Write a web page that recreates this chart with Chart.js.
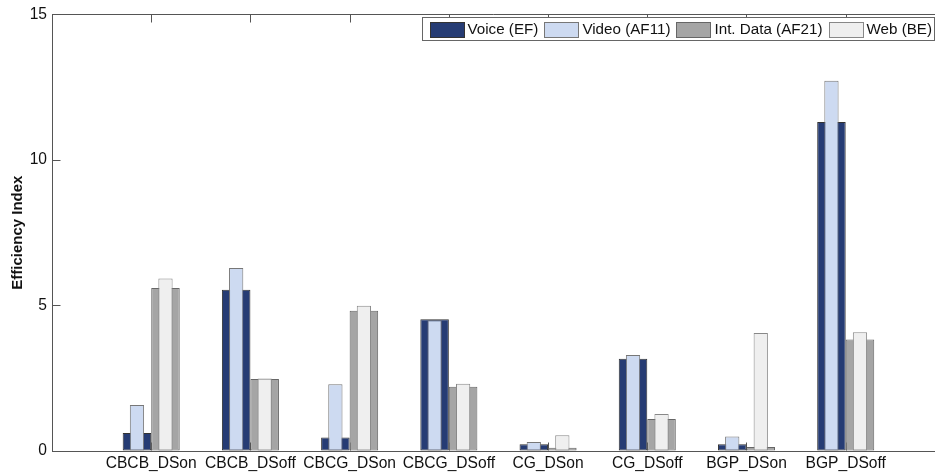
<!DOCTYPE html>
<html>
<head>
<meta charset="utf-8">
<title>Efficiency Index</title>
<script src="https://cdn.jsdelivr.net/npm/chart.js@4.4.0/dist/chart.umd.min.js"></script>
<style>
  html, body { margin: 0; padding: 0; background: #fff; overflow: hidden; }
  #wrap { position: relative; width: 935px; height: 473px; }
</style>
</head>
<body>
<div id="wrap"><canvas id="efficiencyChart"></canvas></div>
<script>
// Scénarios et valeurs par classe de trafic
const categories = ['CBCB_DSon', 'CBCB_DSoff', 'CBCG_DSon', 'CBCG_DSoff', 'CG_DSon', 'CG_DSoff', 'BGP_DSon', 'BGP_DSoff'];
const voiceEF   = [0.62, 5.54, 0.46, 4.53, 0.23, 3.17, 0.23, 11.30];
const videoAF11 = [1.58, 6.29, 2.29, 4.49, 0.31, 3.30, 0.50, 12.72];
const dataAF21  = [5.60, 2.47, 4.82, 2.21, 0.11, 1.10, 0.14, 3.83];
const webBE     = [5.93, 2.49, 4.99, 2.31, 0.54, 1.27, 4.05, 4.08];
const yTicks = [0, 5, 10, 15];

const FONT = "'Liberation Sans', Arial, Helvetica, sans-serif";
const FONT_SIZE = 15.6;
const AXIS_COLOR = '#555';

// Les catégories sont placées en 1..8 sur un axe linéaire
function toPoints(values) {
  return values.map((v, i) => ({ x: i + 1, y: v }));
}

// Cadre façon MATLAB : ligne du haut + petits traits vers l'intérieur
const axisFrame = {
  id: 'axisFrame',
  beforeDatasetsDraw(chart) {
    const { ctx, chartArea: a, scales } = chart;
    const top = Math.round(a.top) + 0.5;
    const left = Math.round(a.left) + 0.5;
    const bottom = Math.round(a.bottom) - 0.5;
    ctx.save();
    ctx.strokeStyle = AXIS_COLOR;
    ctx.lineWidth = 1;
    ctx.beginPath();
    ctx.moveTo(left, top);
    ctx.lineTo(a.right, top);
    categories.forEach((c, i) => {
      const x = Math.round(scales.x.getPixelForValue(i + 1)) + 0.5;
      ctx.moveTo(x, top);
      ctx.lineTo(x, top + 8);
      ctx.moveTo(x, bottom);
      ctx.lineTo(x, bottom - 8);
    });
    yTicks.forEach(t => {
      const y = Math.round(scales.y.getPixelForValue(t)) + 0.5;
      ctx.moveTo(left, y);
      ctx.lineTo(left + 8, y);
    });
    ctx.stroke();
    ctx.restore();
  }
};

// Légende encadrée dans le coin en haut à droite
const boxLegend = {
  id: 'boxLegend',
  afterDraw(chart) {
    const { ctx } = chart;
    const items = chart.data.datasets;
    const sw = 34, sh = 15, padL = 7, gapText = 4, gapItem = 6, padR = 3;
    ctx.save();
    ctx.font = '15.2px ' + FONT;
    const widths = items.map(d => ctx.measureText(d.label).width);
    let total = padL + padR;
    widths.forEach((w, i) => { total += sw + gapText + w + (i < widths.length - 1 ? gapItem : 0); });
    const right = 934.5, top = 17.5, h = 23;
    const left = Math.round(right - total) + 0.5;
    ctx.fillStyle = '#fff';
    ctx.fillRect(left, top, right - left, h);
    ctx.strokeStyle = '#666';
    ctx.lineWidth = 1;
    ctx.strokeRect(left, top, right - left, h);

    let x = left + padL;
    const cy = top + h / 2;
    items.forEach((d, i) => {
      ctx.fillStyle = d.backgroundColor;
      ctx.fillRect(Math.round(x) + 0.5, Math.round(cy - sh / 2) + 0.5, sw, sh);
      ctx.strokeStyle = d.borderColor;
      ctx.strokeRect(Math.round(x) + 0.5, Math.round(cy - sh / 2) + 0.5, sw, sh);
      x += sw + gapText;
      ctx.fillStyle = '#111';
      ctx.textBaseline = 'middle';
      ctx.textAlign = 'left';
      ctx.fillText(d.label, x, cy + 1);
      x += widths[i] + gapItem;
    });
    ctx.restore();
  }
};

const data = {
  datasets: [
    {
      label: 'Voice (EF)',
      data: toPoints(voiceEF),
      stack: 'left',
      order: 2,
      barPercentage: 1,
      backgroundColor: '#263c74',
      borderColor: '#333'
    },
    {
      label: 'Video (AF11)',
      data: toPoints(videoAF11),
      stack: 'left',
      order: 1,
      barPercentage: 0.5,
      backgroundColor: '#cddaf1',
      borderColor: '#777'
    },
    {
      label: 'Int. Data (AF21)',
      data: toPoints(dataAF21),
      stack: 'right',
      order: 2,
      barPercentage: 1,
      backgroundColor: '#a5a5a5',
      borderColor: '#666'
    },
    {
      label: 'Web (BE)',
      data: toPoints(webBE),
      stack: 'right',
      order: 1,
      barPercentage: 0.5,
      backgroundColor: '#efefef',
      borderColor: '#888'
    }
  ]
};

const config = {
  type: 'bar',
  data: data,
  options: {
    responsive: true,
    maintainAspectRatio: false,
    animation: false,
    layout: { padding: { left: 0, top: 12, right: 0, bottom: 0 } },
    datasets: {
      bar: {
        categoryPercentage: 0.575,
        borderWidth: 1,
        borderSkipped: false
      }
    },
    scales: {
      x: {
        type: 'linear',
        min: 0,
        max: 8.9,
        offset: false,
        afterBuildTicks: (scale) => {
          scale.ticks = categories.map((c, i) => ({ value: i + 1 }));
        },
        afterFit: (scale) => { scale.height = 22; },
        border: { color: AXIS_COLOR },
        grid: { drawOnChartArea: false, drawTicks: false },
        ticks: {
          autoSkip: false,
          maxRotation: 0,
          padding: 3,
          color: '#111',
          font: { family: FONT, size: FONT_SIZE },
          callback: (value, index) => categories[index]
        }
      },
      y: {
        min: 0,
        max: 15,
        stacked: false,
        afterBuildTicks: (scale) => {
          scale.ticks = yTicks.map(v => ({ value: v }));
        },
        afterFit: (scale) => { scale.width = 52; },
        border: { color: AXIS_COLOR },
        grid: { drawOnChartArea: false, drawTicks: false },
        ticks: {
          padding: 5,
          color: '#111',
          font: { family: FONT, size: FONT_SIZE }
        },
        title: {
          display: true,
          text: 'Efficiency Index',
          color: '#111',
          padding: { top: 9, bottom: 0 },
          font: { family: FONT, size: 15, weight: 'bold' }
        }
      }
    },
    plugins: {
      legend: { display: false },
      tooltip: { enabled: false }
    }
  },
  plugins: [axisFrame, boxLegend]
};

new Chart(document.getElementById('efficiencyChart'), config);
</script>
</body>
</html>
